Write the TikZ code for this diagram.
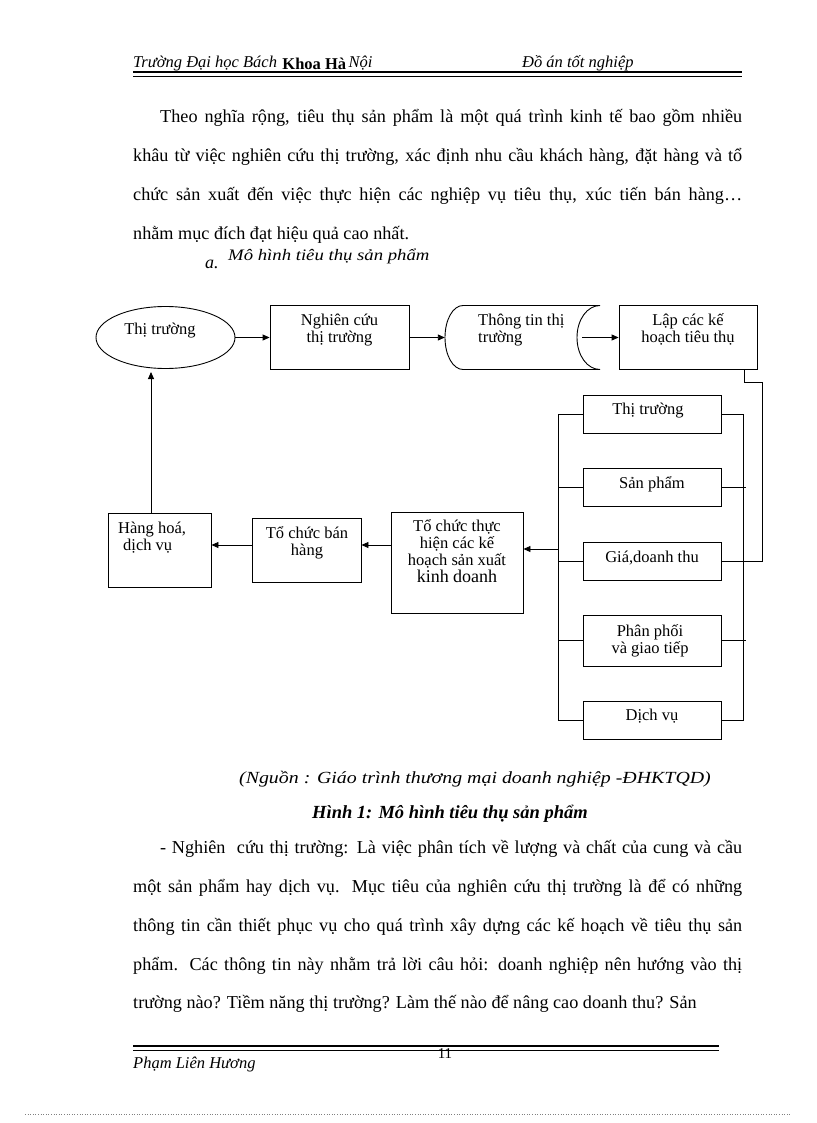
\documentclass[tikz,border=0pt]{standalone}
\usepackage{fontspec}
\setmainfont{Liberation Serif}
\newfontfamily\capfont[FakeStretch=1.17]{Liberation Serif}
\usetikzlibrary{arrows.meta,shapes.geometric}
\newcommand\st{\rule{0pt}{16pt}}
\tikzset{
  bx/.style={draw, line width=0.9pt, inner sep=0pt, rectangle},
  ln/.style={line width=0.9pt},
  arr/.style={line width=0.9pt, -{Triangle[length=7pt,width=6pt]}},
  dg/.style={font=\fontsize{16.5}{17}\selectfont, inner sep=0pt, align=center, anchor=north},
  dgl/.style={font=\fontsize{16.5}{17}\selectfont, inner sep=0pt, align=left, anchor=north west},
  body/.style={font=\fontsize{18.2}{39}\selectfont, inner sep=0pt, anchor=base west},
  hd/.style={font=\fontsize{16.5}{18}\selectfont\itshape, inner sep=0pt, anchor=base west},
}
\begin{document}
\begin{tikzpicture}[x=1pt,y=-1pt]
\useasboundingbox (0,0) rectangle (816,1123);
\fill[white] (0,0) rectangle (816,1123);

% header
\node[hd] (h1) at (133,68) {Trường Đại học Bách};
\node[hd, font=\fontsize{16.5}{18}\selectfont\bfseries, anchor=base west] (h2) at ([xshift=5pt,yshift=-1.5pt]h1.base east) {Khoa Hà};
\node[hd] (h3) at ([xshift=2pt,yshift=1.5pt]h2.base east) {Nội};
\node[hd] (h4) at (522,68) {Đồ án tốt nghiệp};
\draw[line width=2pt] (133,72.5) -- (742,72.5);
\draw[line width=1pt] (133,76.5) -- (742,76.5);

% paragraph 1
\node[body] (p1) at (160,123) {\makebox[582pt][s]{Theo nghĩa rộng, tiêu thụ sản phẩm là một quá trình kinh tế bao gồm nhiều}};
\node[body] (p2) at (133,162) {\makebox[609pt][s]{khâu từ việc nghiên cứu thị trường, xác định nhu cầu khách hàng, đặt hàng và tổ}};
\node[body] (p3) at (133,201) {\makebox[609pt][s]{chức sản xuất đến việc thực hiện các nghiệp vụ tiêu thụ, xúc tiến bán hàng…}};
\node[body] (p4) at (133,240) {nhằm mục đích đạt hiệu quả cao nhất.};

\node[body, font=\fontsize{18}{20}\selectfont\itshape] (a1) at (205,268) {a.};
\node[body, font={\fontsize{16}{18}\capfont\itshape}] (a2) at (228,260) {Mô hình tiêu thụ sản phẩm};

% diagram top row
\node[draw, ellipse, line width=0.9pt, minimum width=139pt, minimum height=62pt, inner sep=0pt] (e1) at (165.5,337.5) {};
\node[dg] (te1) at (160,318) {\st Thị trường};
\node[bx, minimum width=139pt, minimum height=64pt] (n2) at (339.5,337.5) {};
\node[dg] (tn2) at (339.5,309) {\st Nghiên cứu\\ thị trường};
\node[inner sep=0pt, minimum width=155pt, minimum height=64pt] (n3) at (522.5,337.5) {};
\draw[ln] (600,305.5) -- (463,305.5)
  .. controls (453.06,305.5) and (445,319.5) .. (445,337.5)
  .. controls (445,355.5) and (453.06,369.5) .. (463,369.5)
  -- (600,369.5)
  .. controls (587.3,369.5) and (577,355.5) .. (577,337.5)
  .. controls (577,319.5) and (587.3,305.5) .. (600,305.5);
\node[dgl] (tn3) at (478,309) {\st Thông tin thị\\trường};
\node[bx, minimum width=138pt, minimum height=64pt] (n4) at (688,337.5) {};
\node[dg] (tn4) at (688,309) {\st Lập các kế\\hoạch tiêu thụ};

\draw[arr] (e1.east) -- (n2.west);
\draw[arr] (n2.east) -- (n3.west);
\draw[arr] ([xshift=-18pt]n3.east) -- (n4.west);

% right column
\node[bx, minimum width=138pt, minimum height=38pt] (r1) at (652,414) {};
\node[dg] (tr1) at (648,398.5) {\st Thị trường};
\node[bx, minimum width=138pt, minimum height=38pt] (r2) at (652,487.5) {};
\node[dg] (tr2) at (652,472) {\st Sản phẩm};
\node[bx, minimum width=138pt, minimum height=38pt] (r3) at (652,561) {};
\node[dg] (tr3) at (652,546) {\st Giá,doanh thu};
\node[bx, minimum width=138pt, minimum height=51pt] (r4) at (652,640.5) {};
\node[dg] (tr4) at (650,620) {\st Phân phối\\ và giao tiếp};
\node[bx, minimum width=138pt, minimum height=38pt] (r5) at (652,720) {};
\node[dg] (tr5) at (652,704) {\st Dịch vụ};

\coordinate (lbus) at (558.5,0);
\coordinate (rbus) at (743,0);
\draw[ln] (r1.west) -- (r1.west -| lbus) -- (r5.west -| lbus) -- (r5.west);
\draw[ln] (r1.east) -- (r1.east -| rbus) -- (r5.east -| rbus) -- (r5.east);
\foreach \r in {r2,r3,r4} {
  \draw[ln] (\r.west) -- (\r.west -| lbus);
}
\draw[ln] (r2.east) -- ([xshift=3pt]r2.east -| rbus);
\draw[ln] (r3.east) -- (r3.east -| rbus);
\draw[ln] (r4.east) -- ([xshift=3pt]r4.east -| rbus);

\coordinate (lpa) at (744,369.5);
\coordinate (lp) at (762,382);
\draw[ln] (lpa) |- (lp) |- (r3.east -| rbus);

% bottom row
\node[bx, minimum width=103pt, minimum height=74pt] (hh) at (159.5,550) {};
\node[dgl] (thh) at (118,517.5) {\st Hàng hoá,\\\hspace*{5pt}dịch vụ};
\node[bx, minimum width=109pt, minimum height=64pt] (tb) at (306.5,550) {};
\node[dg] (ttb) at (307,522.5) {\st Tổ chức bán\\hàng};
\node[bx, minimum width=132pt, minimum height=101pt] (tt) at (457,562.5) {};
\node[dg] (ttt) at (457,515.5) {\st Tổ chức thực\\hiện các kế\\hoạch sản xuất\\{\fontsize{18}{17}\selectfont kinh doanh}};

\coordinate (ar2) at (0,545);
\coordinate (ain) at (558.5,549);
\coordinate (upt) at (151,372);
\draw[arr] (ain) -- (ain -| tt.east);
\draw[arr] (tt.west |- ar2) -- (tb.east |- ar2);
\draw[arr] (tb.west |- ar2) -- (hh.east |- ar2);
\draw[arr] (hh.north -| upt) -- (upt);

% captions
\node[inner sep=0pt, anchor=base, font={\fontsize{17}{18}\capfont\itshape}] (cap) at (475,783) {(Nguồn : Giáo trình thương mại doanh nghiệp -ĐHKTQD)};
\node[inner sep=0pt, anchor=base, font=\fontsize{18.5}{20}\selectfont\bfseries\itshape] (fig) at (450,818) {Hình 1: Mô hình tiêu thụ sản phẩm};

% paragraph 2
\node[body] (q1) at (160,853) {\makebox[582pt][s]{- Nghiên\ \ cứu thị trường: Là việc phân tích về lượng và chất của cung và cầu}};
\node[body] (q2) at (133,892) {\makebox[609pt][s]{một sản phẩm hay dịch vụ. Mục tiêu của nghiên cứu thị trường là để có những}};
\node[body] (q3) at (133,931) {\makebox[609pt][s]{thông tin cần thiết phục vụ cho quá trình xây dựng các kế hoạch về tiêu thụ sản}};
\node[body] (q4) at (133,970) {\makebox[609pt][s]{phẩm. Các thông tin này nhằm trả lời câu hỏi: doanh nghiệp nên hướng vào thị}};
\node[body] (q5) at (133,1008) {trường nào? Tiềm năng thị trường? Làm thế nào để nâng cao doanh thu? Sản};

% footer
\draw[line width=1.6pt] (133,1046) -- (719,1046);
\draw[line width=1.6pt] (133,1050.5) -- (719,1050.5);
\node[inner sep=0pt, anchor=base, font=\fontsize{15}{16}\selectfont] (pg) at (445,1058) {11};
\node[hd] (au) at (133,1068) {Phạm Liên Hương};
\draw[gray, dotted, line width=0.6pt] (25,1114) -- (790,1114);
\end{tikzpicture}
\end{document}
